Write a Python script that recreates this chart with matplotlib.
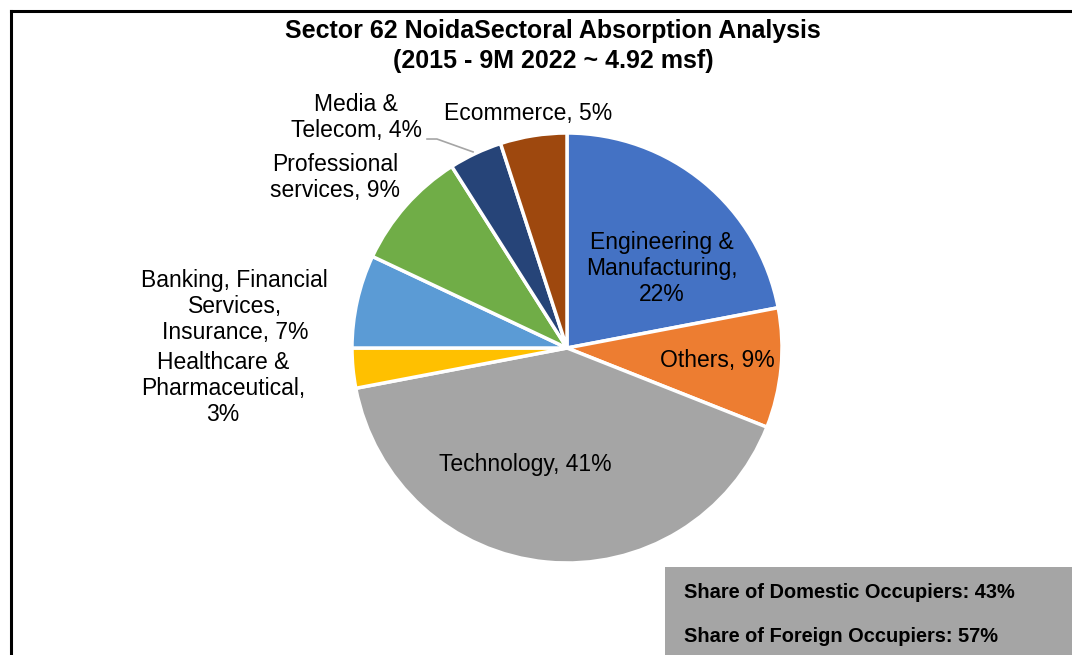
import matplotlib.pyplot as plt
from matplotlib.patches import Rectangle
from matplotlib.lines import Line2D

plt.rcParams['font.family'] = ['Liberation Sans', 'DejaVu Sans']

sectors = ["Engineering &\nManufacturing,\n22%", "Others, 9%", "Technology, 41%",
           "Healthcare &\nPharmaceutical,\n3%", "Banking, Financial\nServices,\nInsurance, 7%",
           "Professional\nservices, 9%", "Media &\nTelecom, 4%", "Ecommerce, 5%"]
shares = [22, 9, 41, 3, 7, 9, 4, 5]
colors = ["#4472C4", "#ED7D31", "#A5A5A5", "#FFC000", "#5B9BD5", "#70AD47", "#264478", "#9E480E"]
occupiers = ["Share of Domestic Occupiers: 43%", "Share of Foreign Occupiers: 57%"]

# label positions in pie units (radius = 1)
label_pos = [(0.44, 0.37), (0.70, -0.056), (-0.195, -0.544), (-1.6, -0.19),
             (-1.545, 0.195), (-1.08, 0.795), (-0.981, 1.07), (-0.183, 1.09)]

fig = plt.figure(figsize=(10.72, 6.55), dpi=100)

# outer frame (cropped chart border: left + top only visible)
fig.add_artist(Line2D([11 / 1072, 11 / 1072], [0, 1 - 11 / 655], color="black", lw=2.2, transform=fig.transFigure))
fig.add_artist(Line2D([11 / 1072, 1], [1 - 11 / 655, 1 - 11 / 655], color="black", lw=2.2, transform=fig.transFigure))

cx, cy, r = 567, 348, 215
ax = fig.add_axes([(cx - r) / 1072, (655 - cy - r) / 655, 2 * r / 1072, 2 * r / 655])
ax.pie(shares, colors=colors, startangle=90, counterclock=False, radius=1,
       wedgeprops=dict(edgecolor="white", linewidth=2.5))
ax.set_xlim(-1, 1)
ax.set_ylim(-1, 1)
ax.set_aspect("equal")
ax.axis("off")

for lab, (x, y) in zip(sectors, label_pos):
    ax.text(x, y, lab, ha="center", va="center", fontsize=16.5, color="black",
            linespacing=1.17, clip_on=False)

# leader line for Media & Telecom
ax.plot([-0.651, -0.605, -0.437], [0.972, 0.972, 0.912], color="#A5A5A5", lw=1.2, clip_on=False)

fig.text(553 / 1072, 1 - 46 / 655, "Sector 62 NoidaSectoral Absorption Analysis\n(2015 - 9M 2022 ~ 4.92 msf)",
         ha="center", va="center", fontsize=18, fontweight="bold", linespacing=1.3)

fig.add_artist(Rectangle((665 / 1072, 0), 1 - 665 / 1072, 88 / 655, transform=fig.transFigure,
                         facecolor="#A5A5A5", edgecolor="none"))
for i, t in enumerate(occupiers):
    fig.text(684 / 1072, 1 - (592 + 45 * i) / 655, t, ha="left", va="center",
             fontsize=14.4, fontweight="bold")

fig.savefig("out.png", dpi=100)
